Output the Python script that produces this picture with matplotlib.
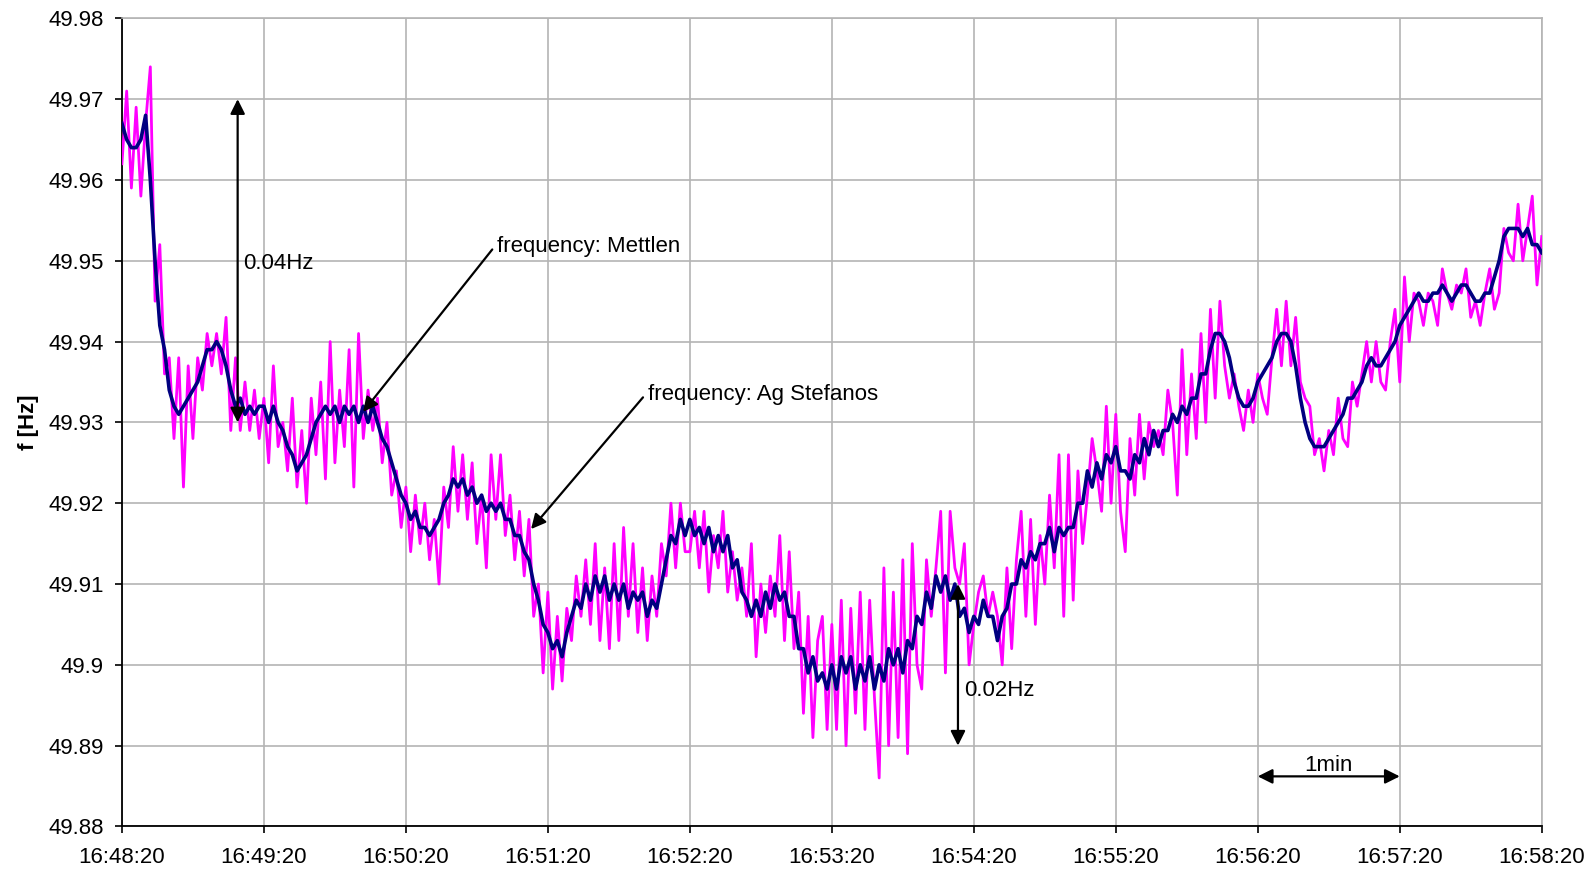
import numpy as np
import matplotlib
matplotlib.use("Agg")
import matplotlib.pyplot as plt

plt.rcParams["font.family"] = ["Liberation Sans", "DejaVu Sans"]

# sample times in seconds after 16:48:20 (2 s logging interval)
SAMPLE_STEP_S = 2
TICK_LABELS = ["16:48:20", "16:49:20", "16:50:20", "16:51:20", "16:52:20", "16:53:20",
               "16:54:20", "16:55:20", "16:56:20", "16:57:20", "16:58:20"]
Y_TICKS = [49.88, 49.89, 49.90, 49.91, 49.92, 49.93, 49.94, 49.95, 49.96, 49.97, 49.98]
Y_LABELS = ["49.88", "49.89", "49.9", "49.91", "49.92", "49.93", "49.94", "49.95", "49.96", "49.97", "49.98"]

# frequency measured at Mettlen [Hz]
f_mettlen = [
    49.967, 49.965, 49.964, 49.964, 49.965, 49.968, 49.960, 49.950, 49.942, 49.939,
    49.934, 49.932, 49.931, 49.932, 49.933, 49.934, 49.935, 49.937, 49.939, 49.939,
    49.940, 49.939, 49.937, 49.934, 49.932, 49.933, 49.931, 49.932, 49.931, 49.932,
    49.932, 49.930, 49.932, 49.930, 49.929, 49.927, 49.926, 49.924, 49.925, 49.926,
    49.928, 49.930, 49.931, 49.932, 49.931, 49.932, 49.930, 49.932, 49.931, 49.932,
    49.930, 49.932, 49.930, 49.932, 49.930, 49.928, 49.927, 49.925, 49.923, 49.921,
    49.920, 49.918, 49.919, 49.917, 49.917, 49.916, 49.917, 49.918, 49.920, 49.921,
    49.923, 49.922, 49.923, 49.921, 49.922, 49.920, 49.921, 49.919, 49.920, 49.919,
    49.920, 49.918, 49.918, 49.916, 49.916, 49.914, 49.913, 49.910, 49.908, 49.905,
    49.904, 49.902, 49.903, 49.901, 49.904, 49.906, 49.908, 49.907, 49.910, 49.908,
    49.911, 49.909, 49.911, 49.908, 49.910, 49.908, 49.910, 49.907, 49.909, 49.908,
    49.909, 49.906, 49.908, 49.907, 49.910, 49.913, 49.916, 49.915, 49.918, 49.916,
    49.918, 49.916, 49.917, 49.915, 49.917, 49.914, 49.916, 49.914, 49.916, 49.912,
    49.913, 49.909, 49.908, 49.906, 49.908, 49.906, 49.909, 49.907, 49.910, 49.908,
    49.909, 49.906, 49.906, 49.902, 49.902, 49.899, 49.901, 49.898, 49.899, 49.897,
    49.900, 49.897, 49.901, 49.899, 49.901, 49.897, 49.900, 49.898, 49.901, 49.897,
    49.900, 49.898, 49.902, 49.900, 49.902, 49.899, 49.903, 49.902, 49.906, 49.905,
    49.909, 49.907, 49.911, 49.909, 49.911, 49.908, 49.910, 49.906, 49.907, 49.904,
    49.906, 49.905, 49.908, 49.906, 49.906, 49.903, 49.906, 49.907, 49.910, 49.910,
    49.913, 49.912, 49.914, 49.913, 49.915, 49.915, 49.917, 49.914, 49.917, 49.916,
    49.917, 49.917, 49.920, 49.920, 49.924, 49.922, 49.925, 49.923, 49.926, 49.925,
    49.927, 49.924, 49.924, 49.923, 49.926, 49.925, 49.928, 49.926, 49.929, 49.927,
    49.929, 49.929, 49.931, 49.930, 49.932, 49.931, 49.933, 49.933, 49.936, 49.936,
    49.939, 49.941, 49.941, 49.940, 49.938, 49.935, 49.933, 49.932, 49.932, 49.933,
    49.935, 49.936, 49.937, 49.938, 49.940, 49.941, 49.941, 49.940, 49.937, 49.933,
    49.930, 49.928, 49.927, 49.927, 49.927, 49.928, 49.929, 49.930, 49.931, 49.933,
    49.933, 49.934, 49.935, 49.937, 49.938, 49.937, 49.937, 49.938, 49.939, 49.940,
    49.942, 49.943, 49.944, 49.945, 49.946, 49.945, 49.945, 49.946, 49.946, 49.947,
    49.946, 49.945, 49.946, 49.947, 49.947, 49.946, 49.945, 49.945, 49.946, 49.946,
    49.948, 49.950, 49.953, 49.954, 49.954, 49.954, 49.953, 49.954, 49.952, 49.952,
    49.951,
]

# frequency measured at Ag Stefanos [Hz]
f_stefanos = [
    49.962, 49.971, 49.959, 49.969, 49.958, 49.967, 49.974, 49.945, 49.952, 49.936,
    49.938, 49.928, 49.938, 49.922, 49.937, 49.928, 49.938, 49.934, 49.941, 49.937,
    49.941, 49.936, 49.943, 49.929, 49.938, 49.929, 49.935, 49.929, 49.934, 49.928,
    49.933, 49.925, 49.937, 49.927, 49.930, 49.924, 49.933, 49.922, 49.929, 49.920,
    49.933, 49.926, 49.935, 49.923, 49.940, 49.925, 49.934, 49.927, 49.939, 49.922,
    49.941, 49.928, 49.934, 49.929, 49.933, 49.925, 49.930, 49.921, 49.924, 49.917,
    49.922, 49.914, 49.921, 49.915, 49.920, 49.913, 49.918, 49.910, 49.922, 49.917,
    49.927, 49.919, 49.926, 49.918, 49.925, 49.915, 49.921, 49.912, 49.926, 49.918,
    49.926, 49.916, 49.921, 49.913, 49.919, 49.911, 49.918, 49.906, 49.910, 49.899,
    49.909, 49.897, 49.906, 49.898, 49.907, 49.903, 49.911, 49.906, 49.913, 49.905,
    49.915, 49.903, 49.912, 49.902, 49.915, 49.903, 49.917, 49.906, 49.915, 49.904,
    49.912, 49.903, 49.911, 49.906, 49.915, 49.911, 49.920, 49.912, 49.920, 49.914,
    49.914, 49.919, 49.912, 49.919, 49.909, 49.916, 49.912, 49.919, 49.909, 49.914,
    49.908, 49.912, 49.906, 49.915, 49.901, 49.910, 49.904, 49.911, 49.906, 49.916,
    49.903, 49.914, 49.902, 49.909, 49.894, 49.906, 49.891, 49.903, 49.906, 49.892,
    49.905, 49.892, 49.908, 49.890, 49.907, 49.894, 49.909, 49.892, 49.908, 49.896,
    49.886, 49.912, 49.890, 49.909, 49.891, 49.913, 49.889, 49.915, 49.900, 49.897,
    49.913, 49.906, 49.912, 49.919, 49.899, 49.919, 49.912, 49.910, 49.915, 49.900,
    49.905, 49.909, 49.911, 49.906, 49.909, 49.906, 49.900, 49.912, 49.902, 49.913,
    49.919, 49.906, 49.918, 49.905, 49.916, 49.910, 49.921, 49.912, 49.926, 49.906,
    49.926, 49.908, 49.924, 49.915, 49.921, 49.928, 49.924, 49.919, 49.932, 49.920,
    49.931, 49.919, 49.914, 49.928, 49.921, 49.931, 49.923, 49.930, 49.927, 49.929,
    49.926, 49.934, 49.930, 49.921, 49.939, 49.926, 49.936, 49.928, 49.941, 49.930,
    49.944, 49.933, 49.945, 49.937, 49.933, 49.936, 49.932, 49.929, 49.934, 49.930,
    49.936, 49.933, 49.931, 49.938, 49.944, 49.937, 49.945, 49.937, 49.943, 49.935,
    49.933, 49.932, 49.926, 49.928, 49.924, 49.929, 49.926, 49.933, 49.928, 49.927,
    49.935, 49.932, 49.936, 49.940, 49.935, 49.940, 49.935, 49.934, 49.940, 49.944,
    49.935, 49.948, 49.940, 49.946, 49.945, 49.942, 49.946, 49.945, 49.942, 49.949,
    49.946, 49.944, 49.947, 49.946, 49.949, 49.943, 49.945, 49.942, 49.946, 49.949,
    49.944, 49.946, 49.954, 49.951, 49.950, 49.957, 49.950, 49.954, 49.958, 49.947,
    49.953,
]

t = np.arange(len(f_mettlen)) * SAMPLE_STEP_S

fig = plt.figure(figsize=(15.96, 8.73), dpi=100)
ax = fig.add_axes([0.0764, 0.0533, 0.8896, 0.9257])

ax.plot(t, f_stefanos, color="#ff00ff", linewidth=2.0, zorder=3)
ax.plot(t, f_mettlen, color="#000080", linewidth=2.6, zorder=4)

ax.set_xlim(0, 600)
ax.set_ylim(49.88, 49.98)
ax.set_xticks(np.arange(0, 601, 60))
ax.set_xticklabels(TICK_LABELS)
ax.set_yticks(Y_TICKS)
ax.set_yticklabels(Y_LABELS)
ax.grid(True, color="#b4b4b4", linewidth=1.2)
ax.set_axisbelow(True)
ax.tick_params(axis="both", labelsize=16, length=5, width=1.2, direction="out")
ax.tick_params(axis="x", pad=10)
ax.tick_params(axis="y", pad=8)
for side in ("top", "right"):
    ax.spines[side].set_color("#b4b4b4")
    ax.spines[side].set_linewidth(1.2)
for side in ("left", "bottom"):
    ax.spines[side].set_linewidth(1.3)
ax.set_ylabel("f [Hz]", fontsize=16, fontweight="bold", labelpad=7)

arrow_both = dict(arrowstyle="<|-|>", color="black", lw=1.6, mutation_scale=22,
                  shrinkA=0, shrinkB=0)
arrow_one = dict(arrowstyle="-|>", color="black", lw=1.6, mutation_scale=22,
                 shrinkA=0, shrinkB=0)

# 0.04 Hz span
ax.annotate("", xy=(48.9, 49.970), xytext=(48.9, 49.930), arrowprops=arrow_both, zorder=6)
ax.text(51.3, 49.9497, "0.04Hz", fontsize=16, va="center", ha="left", zorder=6)

# 0.02 Hz span
ax.annotate("", xy=(353.3, 49.910), xytext=(353.3, 49.890), arrowprops=arrow_both, zorder=6)
ax.text(355.7, 49.8968, "0.02Hz", fontsize=16, va="center", ha="left", zorder=6)

# one minute scale
ax.annotate("", xy=(480, 49.8862), xytext=(540, 49.8862), arrowprops=arrow_both, zorder=6)
ax.text(510, 49.8876, "1min", fontsize=16, va="center", ha="center", zorder=6)

# series labels
ax.annotate("", xy=(101.9, 49.9313), xytext=(156.5, 49.9514), arrowprops=arrow_one, zorder=6)
ax.text(158.6, 49.9518, "frequency: Mettlen", fontsize=16, va="center", ha="left", zorder=6)
ax.annotate("", xy=(172.9, 49.9168), xytext=(220.2, 49.9331), arrowprops=arrow_one, zorder=6)
ax.text(222.3, 49.9335, "frequency: Ag Stefanos", fontsize=16, va="center", ha="left", zorder=6)

fig.savefig("out.png", dpi=100)
